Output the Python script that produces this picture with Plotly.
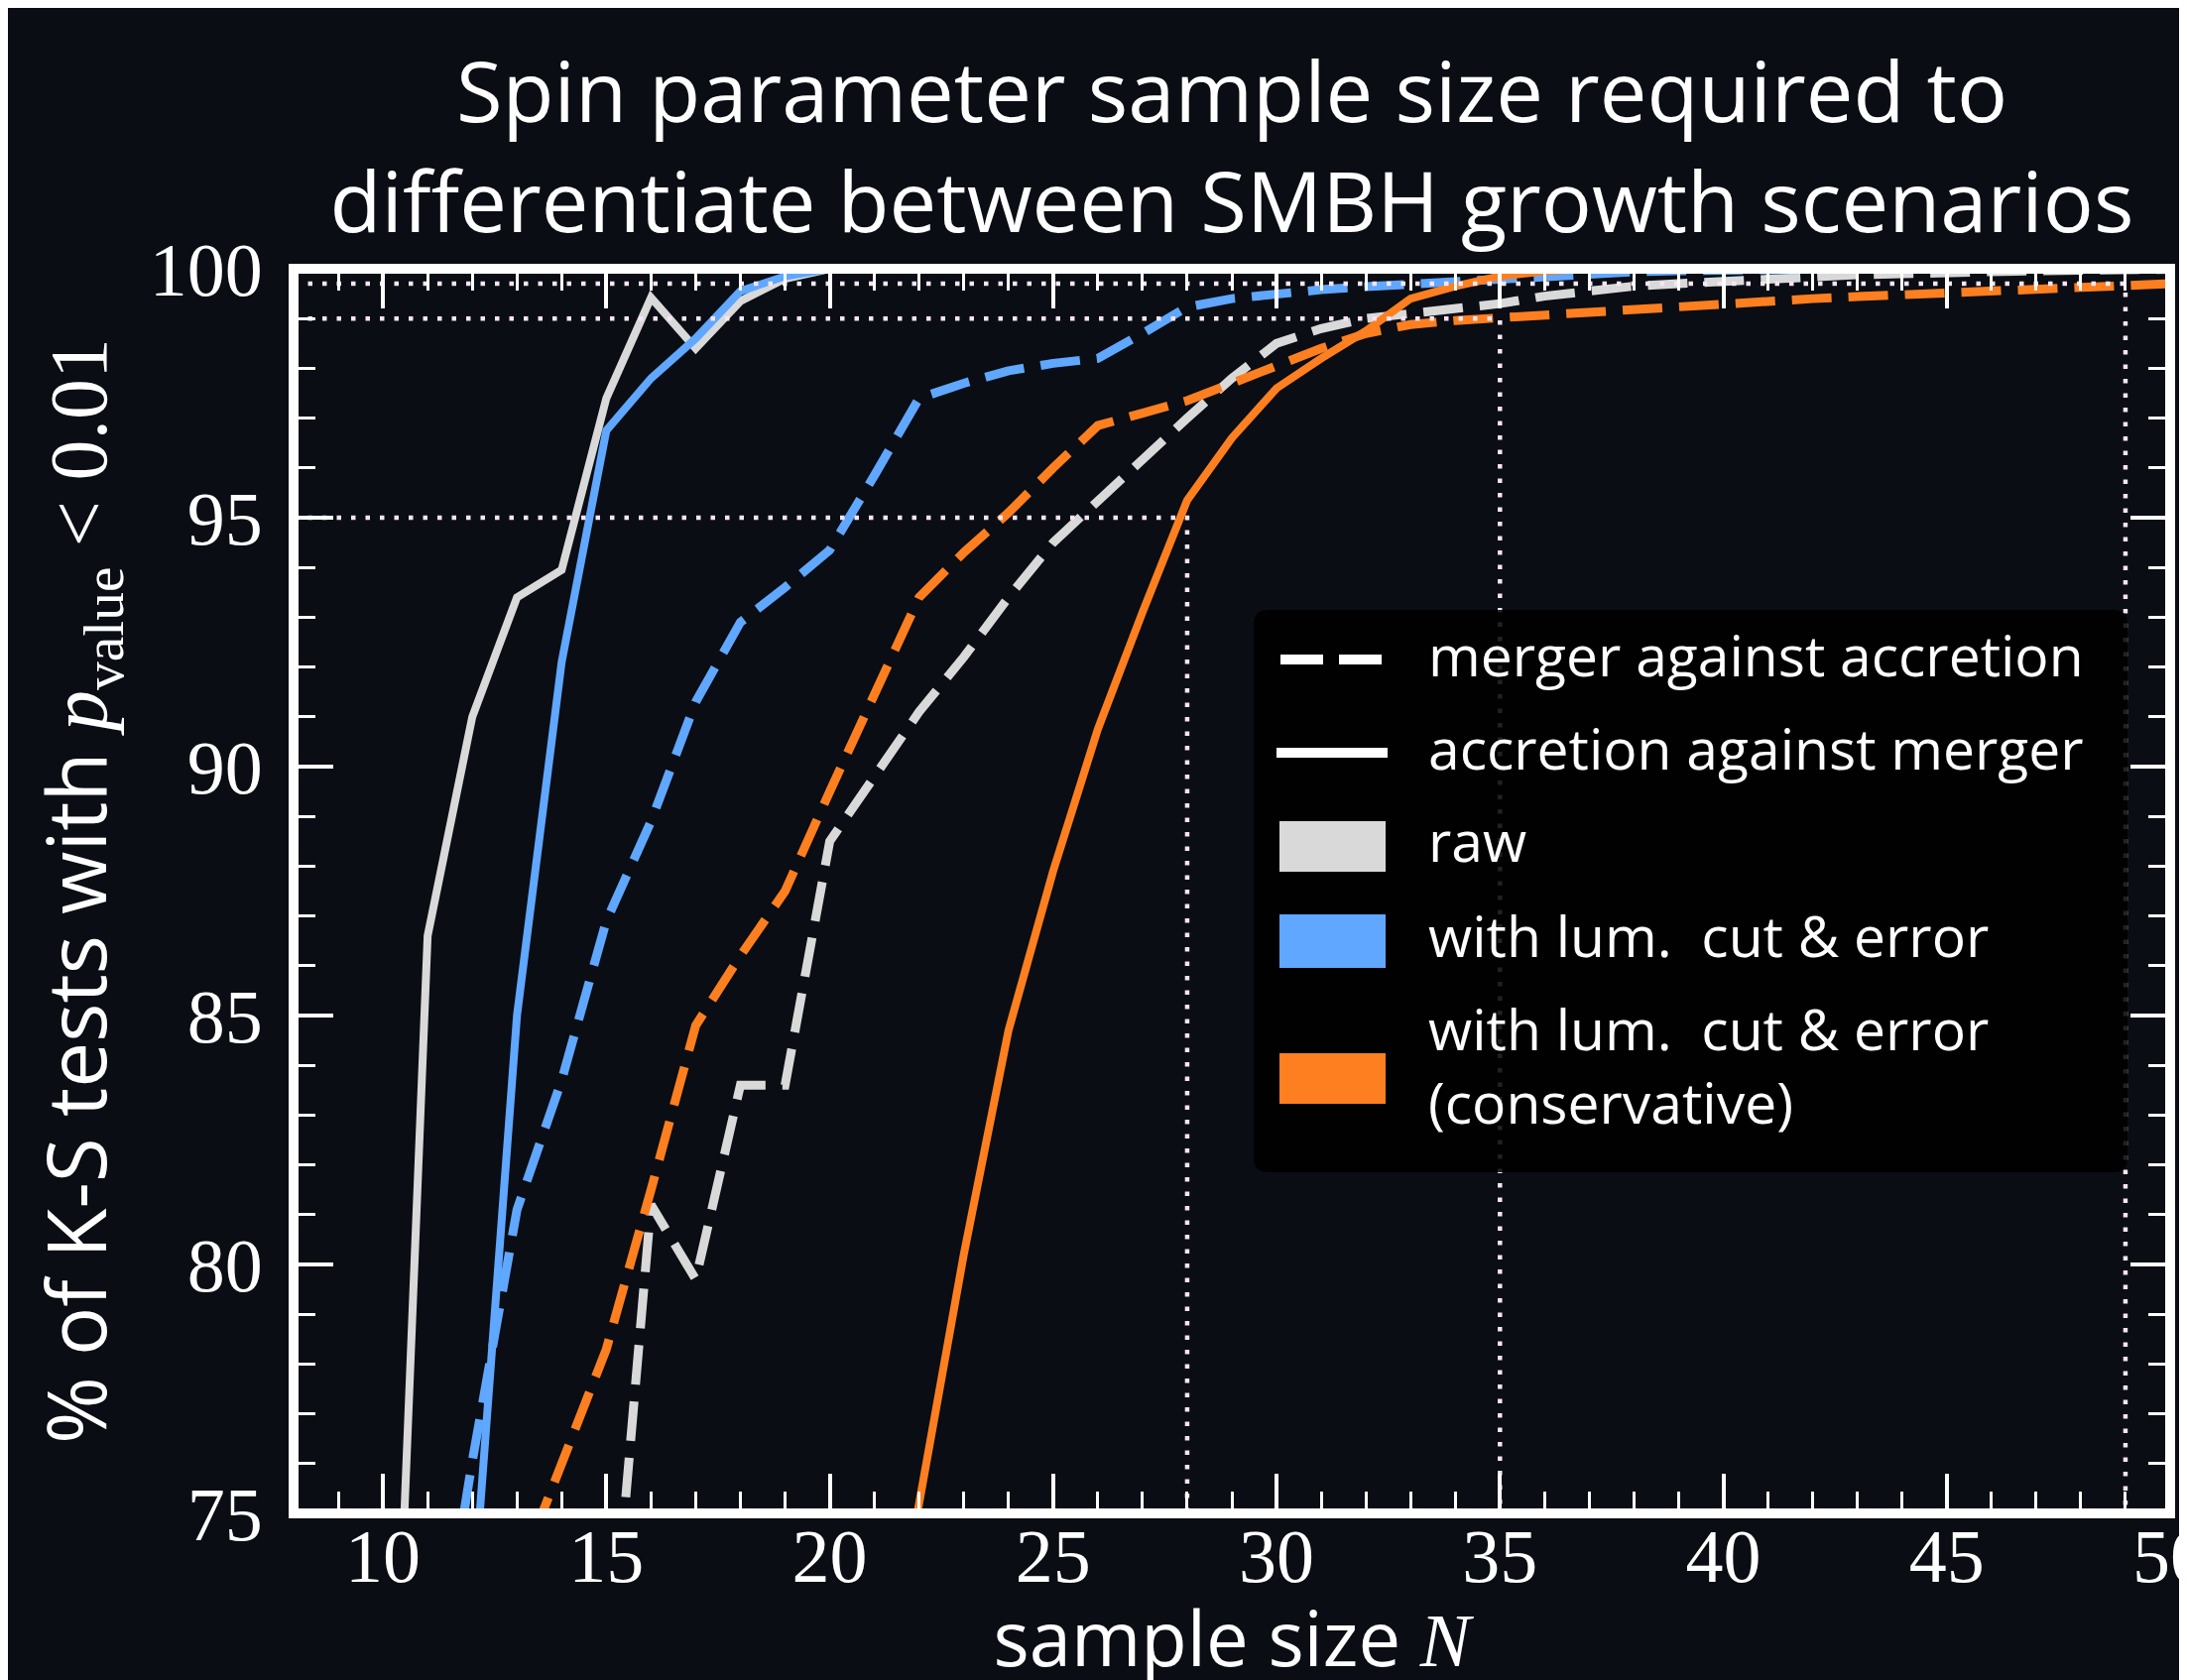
import plotly.graph_objects as go

# ---------------- data ----------------
N = list(range(10, 51))

# raw, accretion against merger (solid)
raw_acc = [64.3, 86.6, 91.0, 93.4, 93.95, 97.4, 99.42, 98.4, 99.35, 99.8] + [100.0] * 31
# raw, merger against accretion (dashed)
raw_mer = [None, None, None, None, None, 70.8, 81.2, 79.7, 83.6, 83.6,
           88.5, 89.8, 91.1, 92.2, 93.4, 94.5, 95.35, 96.2, 97.0, 97.8,
           98.5, 98.8, 99.0, 99.1, 99.2, 99.3, 99.45, 99.57, 99.65, 99.7,
           99.75, 99.8, 99.84, 99.88, 99.9, 99.93, 99.95, 99.96, 99.97, 99.98, 99.99]
# with lum. cut & error, accretion against merger (solid)
lum_acc = [None, None, 73.0, 85.0, 92.1, 96.75, 97.8, 98.6, 99.55, 99.85] + [100.0] * 31
# with lum. cut & error, merger against accretion (dashed)
lum_mer = [None, 70.5, 76.05, 81.1, 83.7, 86.9, 88.9, 91.3, 92.9, 93.6,
           94.35, 95.85, 97.4, 97.7, 97.95, 98.1, 98.2, 98.7, 99.23, 99.4,
           99.5, 99.58, 99.64, 99.69, 99.74, 99.8, 99.86, 99.9, 99.94, 99.96,
           99.98] + [100.0] * 10
# conservative, accretion against merger (solid)
con_acc = [None] * 11 + [70.5, 75.2, 80.2, 84.7, 87.9, 90.75, 93.1, 95.35, 96.6,
           97.6, 98.2, 98.75, 99.4, 99.65, 99.85, 99.95] + [100.0] * 14
# conservative, merger against accretion (dashed)
con_mer = [None, None, 71.4, 73.7, 76.0, 78.3, 81.5, 84.8, 86.2, 87.5,
           89.5, 91.5, 93.4, 94.3, 95.1, 96.0, 96.85, 97.1, 97.35, 97.7,
           98.05, 98.4, 98.7, 98.88, 98.96, 99.02, 99.08, 99.14, 99.2, 99.26,
           99.32, 99.36, 99.4, 99.44, 99.48, 99.52, 99.56, 99.6, 99.63, 99.67, 99.7]

# confidence thresholds and the sample size where they are reached
THRESHOLDS = [95, 99, 99.7]
N_REQUIRED = [28, 35, 49]

X_RANGE = [8, 50]
Y_RANGE = [75, 100]

# ---------------- styling ----------------
GRAY = "#d9d9d9"
BLUE = "#5fa7ff"
ORANGE = "#fe7f1f"
BG = "#0a0d13"
DOT = "#f6e4f6"
SANS = "Open Sans"
SERIF = "Liberation Serif"

W, H = 2205, 1694
L, R, T, B = 288, 2180, 263, 1518   # plot area in pixels


def px(xp):
    return (xp - L) / (R - L)


def py(yp):
    return (B - yp) / (B - T)


fig = go.Figure()

series = [
    (raw_mer, GRAY, "dash"), (raw_acc, GRAY, "solid"),
    (lum_mer, BLUE, "dash"), (lum_acc, BLUE, "solid"),
    (con_mer, ORANGE, "dash"), (con_acc, ORANGE, "solid"),
]
for vals, col, style in series:
    dashed = style == "dash"
    fig.add_trace(go.Scatter(
        x=N, y=vals, mode="lines", showlegend=False, hoverinfo="skip",
        line=dict(color=col, width=9 if dashed else 8,
                  dash="40px,17px" if dashed else "solid"),
    ))

# dotted threshold guides
for thr, n in zip(THRESHOLDS, N_REQUIRED):
    fig.add_trace(go.Scatter(
        x=[X_RANGE[0], n, n], y=[thr, thr, Y_RANGE[0]], mode="lines",
        showlegend=False, hoverinfo="skip",
        line=dict(color=DOT, width=4.5, dash="4.5px,10px"),
    ))

shapes = []
# thick white frame
shapes.append(dict(type="rect", xref="paper", yref="paper", x0=0, x1=1, y0=0, y1=1,
                   line=dict(color="white", width=10), layer="above"))

# manual legend box (rounded)
bx0, bx1, by0, by1 = 1256, 2137, 607, 1174
r = 14
rx, ry = r / (R - L), r / (B - T)
X0, X1, Y0, Y1 = px(bx0), px(bx1), py(by1), py(by0)
path = (f"M{X0+rx},{Y0} L{X1-rx},{Y0} Q{X1},{Y0} {X1},{Y0+ry} "
        f"L{X1},{Y1-ry} Q{X1},{Y1} {X1-rx},{Y1} L{X0+rx},{Y1} Q{X0},{Y1} {X0},{Y1-ry} "
        f"L{X0},{Y0+ry} Q{X0},{Y0} {X0+rx},{Y0} Z")
shapes.append(dict(type="path", xref="paper", yref="paper", path=path,
                   fillcolor="rgba(0,0,0,0.86)", line=dict(width=0), layer="above"))

# legend symbols
shapes.append(dict(type="line", xref="paper", yref="paper",
                   x0=px(1283), x1=px(1386), y0=py(657), y1=py(657),
                   line=dict(color="white", width=10, dash="43px,16px"), layer="above"))
shapes.append(dict(type="line", xref="paper", yref="paper",
                   x0=px(1279), x1=px(1391), y0=py(751), y1=py(751),
                   line=dict(color="white", width=10), layer="above"))
for col, (y0, y1) in zip([GRAY, BLUE, ORANGE], [(820, 871), (914, 968), (1054, 1105)]):
    shapes.append(dict(type="rect", xref="paper", yref="paper",
                       x0=px(1282), x1=px(1389), y0=py(y1), y1=py(y0),
                       fillcolor=col, line=dict(width=0), layer="above"))

legend_labels = ["merger against accretion", "accretion against merger", "raw",
                 "with lum.  cut &amp; error", "with lum.  cut &amp; error<br>(conservative)"]
legend_y = [652, 746, 839, 935, 1066]
annotations = []
for txt, yc in zip(legend_labels, legend_y):
    annotations.append(dict(xref="paper", yref="paper", x=px(1430), y=py(yc),
                            xanchor="left", yanchor="middle", align="left", showarrow=False,
                            text=txt, font=dict(family=SANS, size=57, color="white")))

fig.update_layout(
    width=W, height=H,
    margin=dict(l=L, r=W - R, t=T, b=H - B, autoexpand=False),
    paper_bgcolor=BG, plot_bgcolor=BG,
    showlegend=False,
    title=dict(text="Spin parameter sample size required to<br>differentiate between SMBH growth scenarios",
               x=0.5, xref="paper", xanchor="center", y=0.932, yref="container", yanchor="top",
               font=dict(family=SANS, size=85, color="white")),
    shapes=shapes,
    annotations=annotations,
    xaxis=dict(
        range=X_RANGE, tickmode="linear", tick0=10, dtick=5,
        ticks="inside", ticklen=40, tickwidth=4, tickcolor="white",
        minor=dict(dtick=1, ticks="inside", ticklen=22, tickwidth=3, tickcolor="white"),
        showgrid=False, zeroline=False, showline=True, linecolor="white", linewidth=2,
        mirror="allticks", ticklabeloverflow="allow",
        tickfont=dict(family=SERIF, size=76, color="white"), ticklabelstandoff=-24,
        title=dict(text="sample size <span style=\"font-family:Liberation Serif\"><i>N</i></span>",
                   font=dict(family=SANS, size=76, color="white"), standoff=80),
    ),
    yaxis=dict(
        range=Y_RANGE, tickmode="linear", tick0=75, dtick=5,
        ticks="inside", ticklen=40, tickwidth=4, tickcolor="white",
        minor=dict(dtick=1, ticks="inside", ticklen=22, tickwidth=3, tickcolor="white"),
        showgrid=False, zeroline=False, showline=True, linecolor="white", linewidth=2,
        mirror="allticks", ticklabeloverflow="allow",
        tickfont=dict(family=SERIF, size=76, color="white"), ticklabelstandoff=14,
        title=dict(text="% of K-S tests with <span style=\"font-family:Liberation Serif\"><i>p</i><sub>value</sub> &lt; 0.01</span>",
                   font=dict(family=SANS, size=82, color="white"), standoff=16),
    ),
)

fig.write_html("out.html")
